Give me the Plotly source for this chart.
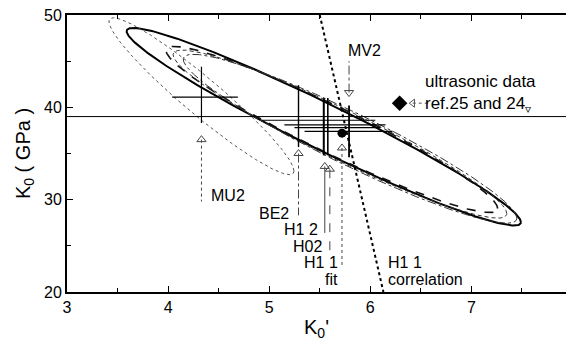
import numpy as np
import plotly.graph_objects as go

# Confidence ellipses: centre (K0', K0), half-extents and correlation
ell_names = ["fit", "H02", "BE2", "H12", "MU2"]
ell_cx = [5.54, 5.62, 5.80, 5.70, 4.33]
ell_cy = [37.9, 37.6, 36.6, 37.1, 41.2]
ell_sx = [1.95, 1.64, 1.65, 1.65, 0.915]
ell_sy = [10.7, 9.0, 9.15, 9.1, 8.5]
ell_rho = [-0.966, -0.95, -0.94, -0.945, -0.952]
ell_dash = ["solid", "dash", "dashdot", "4px,3px", "dot"]
ell_width = [2.0, 1.6, 1.0, 1.0, 1.0]
ell_color = ["#000", "#111", "#333", "#333", "#555"]

# Individual determinations: value with error bars
pt_names = ["MU2", "BE2", "H12", "H02", "MV2"]
pt_x = [4.33, 5.29, 5.54, 5.58, 5.79]
pt_y = [41.1, 38.6, 38.1, 37.8, 37.4]
pt_xlo = [4.04, 4.93, 5.15, 5.25, 5.35]
pt_xhi = [4.69, 6.05, 6.15, 6.10, 6.22]
pt_ylo = [38.3, 35.7, 34.8, 34.8, 34.6]
pt_yhi = [44.4, 42.4, 41.0, 41.0, 40.2]
pt_width = [1.2, 1.4, 2.0, 1.6, 1.8]

# Labels (right edge) and guide lines
lab_text = ["MU2", "BE2", "H1 2", "H02", "H1 1", "fit"]
lab_x = [4.40, 5.22, 5.50, 5.54, 5.70, 5.70]
lab_y = [30.5, 28.5, 26.8, 24.95, 23.2, 21.4]
lab_anchor = ["left", "right", "right", "right", "right", "right"]
arrow_x = [4.33, 5.29, 5.55, 5.60, 5.72, 5.79]
arrow_y = [36.5, 35.0, 33.6, 33.3, 35.6, 41.6]
guide_end = [29.8, 28.3, 26.4, 24.5, 22.6, 45.0]
guide_dash = ["dot", "dashdot", "solid", "dash", "dot", "dashdot"]
arrow_sym = ["triangle-up-open"] * 5 + ["triangle-down-open"]

# Fitted value and correlation line
fit_x, fit_y = 5.72, 37.2
corr_x = [5.50, 6.13]
corr_y = [50.0, 20.0]

# Ultrasonic reference
us_x, us_y = 6.29, 40.45
k0_ultra = 39.0

x_range = [3.0, 7.936]
y_range = [20, 50]

fig = go.Figure()

t = np.linspace(0, 2 * np.pi, 400)
for cx, cy, sx, sy, r, d, w, c in zip(ell_cx, ell_cy, ell_sx, ell_sy, ell_rho,
                                       ell_dash, ell_width, ell_color):
    ex = cx + sx * np.cos(t)
    ey = cy + sy * (r * np.cos(t) + np.sqrt(1 - r * r) * np.sin(t))
    fig.add_trace(go.Scatter(x=ex, y=ey, mode="lines",
                             line=dict(color=c, width=w, dash=d),
                             hoverinfo="skip", showlegend=False))

# horizontal reference line (ultrasonic K0)
fig.add_trace(go.Scatter(x=x_range, y=[k0_ultra, k0_ultra], mode="lines",
                         line=dict(color="#000", width=1), showlegend=False))

# error crosses
for x, y, xl, xh, yl, yh, w in zip(pt_x, pt_y, pt_xlo, pt_xhi, pt_ylo, pt_yhi, pt_width):
    fig.add_trace(go.Scatter(x=[x, x], y=[yl, yh], mode="lines",
                             line=dict(color="#000", width=w), showlegend=False))
    fig.add_trace(go.Scatter(x=[xl, xh], y=[y, y], mode="lines",
                             line=dict(color="#000", width=1.2), showlegend=False))

# guide lines from arrows to labels
for ax, ay, ge, gd in zip(arrow_x, arrow_y, guide_end, guide_dash):
    fig.add_trace(go.Scatter(x=[ax, ax], y=[ay, ge], mode="lines",
                             line=dict(color="#444", width=1, dash=gd),
                             showlegend=False))
fig.add_trace(go.Scatter(x=arrow_x, y=arrow_y, mode="markers",
                         marker=dict(symbol=arrow_sym, size=8, color="#444",
                                     line=dict(width=1, color="#444")),
                         showlegend=False))

# correlation line
fig.add_trace(go.Scatter(x=corr_x, y=corr_y, mode="lines",
                         line=dict(color="#000", width=2, dash="dot"),
                         showlegend=False))

# fitted value
fig.add_trace(go.Scatter(x=[fit_x], y=[fit_y], mode="markers",
                         marker=dict(symbol="circle", size=9, color="#000"),
                         showlegend=False))

# ultrasonic diamond and pointer
fig.add_trace(go.Scatter(x=[us_x], y=[us_y], mode="markers",
                         marker=dict(symbol="diamond", size=12, color="#000"),
                         showlegend=False))
fig.add_trace(go.Scatter(x=[us_x + 0.13, us_x + 0.3], y=[us_y, us_y], mode="lines",
                         line=dict(color="#555", width=1, dash="dot"), showlegend=False))
fig.add_trace(go.Scatter(x=[us_x + 0.13], y=[us_y], mode="markers",
                         marker=dict(symbol="triangle-left-open", size=7, color="#555"),
                         showlegend=False))

font = dict(family="Liberation Sans, Arial, sans-serif", size=17, color="#000")
lab_font = dict(family="Liberation Sans, Arial, sans-serif", size=16, color="#000")
annos = []
for txt, x, y, a in zip(lab_text, lab_x, lab_y, lab_anchor):
    annos.append(dict(x=x, y=y, text=txt, showarrow=False, font=lab_font,
                      xanchor=a, yanchor="middle"))
annos.append(dict(x=5.94, y=46.2, text="MV2", showarrow=False, font=lab_font,
                  xanchor="center", yanchor="middle"))
annos.append(dict(x=6.16, y=23.2, text="H1 1", showarrow=False,
                  font=lab_font, xanchor="left", yanchor="middle"))
annos.append(dict(x=6.16, y=21.4, text="correlation", showarrow=False,
                  font=lab_font, xanchor="left", yanchor="middle"))
annos.append(dict(x=6.52, y=41.4, text="ultrasonic data<br>ref.25 and 24<sub>▿</sub>",
                  showarrow=False, font=font, xanchor="left", yanchor="middle",
                  align="left"))

fig.update_layout(
    width=566, height=341,
    margin=dict(l=67, r=0, t=15, b=49),
    paper_bgcolor="white", plot_bgcolor="white",
    font=font,
    annotations=annos,
    xaxis=dict(range=x_range, showgrid=False, zeroline=False, showline=True,
               linecolor="#000", linewidth=2, mirror="ticks",
               ticks="inside", ticklen=6, tickwidth=1, tickcolor="#000",
               tickvals=[3, 4, 5, 6, 7], tickfont=dict(size=16),
               minor=dict(tickvals=[3.5, 4.5, 5.5, 6.5, 7.5], ticks="inside",
                          ticklen=4, tickcolor="#000"),
               title=dict(text="K<sub>0</sub>'", font=dict(size=20), standoff=6)),
    yaxis=dict(range=y_range, showgrid=False, zeroline=False, showline=True,
               linecolor="#000", linewidth=2, mirror=False,
               ticks="inside", ticklen=6, tickwidth=1, tickcolor="#000",
               tickvals=[20, 30, 40, 50], tickfont=dict(size=16),
               minor=dict(tickvals=[25, 35, 45], ticks="inside", ticklen=4,
                          tickcolor="#000"),
               title=dict(text="K<sub>0</sub> ( GPa )", font=dict(size=20), standoff=8)),
)

fig.write_html("out.html")
